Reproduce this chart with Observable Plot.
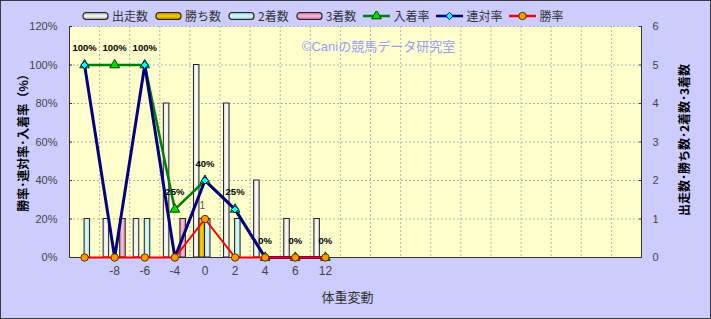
<!DOCTYPE html>
<html><head><meta charset="utf-8">
<script src="https://cdn.jsdelivr.net/npm/d3@7"></script>
<script src="https://cdn.jsdelivr.net/npm/@observablehq/plot@0.6"></script>
<style>
body{margin:0;}
#wrap{position:relative;width:711px;height:319px;background:#ccccff;overflow:hidden;font-family:"Noto Sans CJK JP",sans-serif;}
#border{position:absolute;left:0;top:0;width:711px;height:319px;box-sizing:border-box;border:1px solid #3a3a3a;pointer-events:none;}
#legend{position:absolute;top:8px;left:82px;display:flex;align-items:center;gap:7px;font-size:12px;line-height:16px;color:#333;white-space:nowrap;}
.item{display:flex;align-items:center;}
.item svg{margin-right:3px;display:block;}
#chart{position:absolute;left:0;top:0;}
</style></head>
<body>
<svg width="0" height="0" style="position:absolute">
  <defs>
    <linearGradient id="g0" x1="0" x2="1" y1="0" y2="0"><stop offset="0" stop-color="#d8d8d8"/><stop offset="0.5" stop-color="#ffffff"/><stop offset="1" stop-color="#d8d8d8"/></linearGradient>
    <linearGradient id="g1" x1="0" x2="1" y1="0" y2="0"><stop offset="0" stop-color="#d9a400"/><stop offset="0.5" stop-color="#ffd000"/><stop offset="1" stop-color="#d9a400"/></linearGradient>
    <linearGradient id="g2" x1="0" x2="1" y1="0" y2="0"><stop offset="0" stop-color="#a8e0e4"/><stop offset="0.5" stop-color="#e0fafa"/><stop offset="1" stop-color="#a8e0e4"/></linearGradient>
    <linearGradient id="g3" x1="0" x2="1" y1="0" y2="0"><stop offset="0" stop-color="#e48ab4"/><stop offset="0.5" stop-color="#f8c0da"/><stop offset="1" stop-color="#e48ab4"/></linearGradient>
    <linearGradient id="v0" x1="0" x2="0" y1="0" y2="1"><stop offset="0" stop-color="#999"/><stop offset="0.5" stop-color="#ffffff"/><stop offset="1" stop-color="#999"/></linearGradient>
    <linearGradient id="v1" x1="0" x2="0" y1="0" y2="1"><stop offset="0" stop-color="#b08000"/><stop offset="0.5" stop-color="#ffd000"/><stop offset="1" stop-color="#b08000"/></linearGradient>
    <linearGradient id="v2" x1="0" x2="0" y1="0" y2="1"><stop offset="0" stop-color="#80c0c4"/><stop offset="0.5" stop-color="#e0fafa"/><stop offset="1" stop-color="#80c0c4"/></linearGradient>
    <linearGradient id="v3" x1="0" x2="0" y1="0" y2="1"><stop offset="0" stop-color="#c06090"/><stop offset="0.5" stop-color="#f8c0da"/><stop offset="1" stop-color="#c06090"/></linearGradient>
  </defs>
</svg>
<div id="wrap"><div id="chart"></div><div id="legend"></div><div id="border"></div></div>
<script>
// ---- data ----
const categories = ["", "-8", "-6", "-4", "0", "2", "4", "6", "12"];
const slotCount = 19;
const starts  = [0, 1, 1, 4, 5, 4, 2, 1, 1];   // 出走数
const wins    = [0, 0, 0, 0, 1, 0, 0, 0, 0];   // 勝ち数
const seconds = [1, 0, 1, 0, 1, 1, 0, 0, 0];   // 2着数
const thirds  = [0, 1, 0, 1, 0, 0, 0, 0, 0];   // 3着数
const placeRate  = [100, 100, 100, 25, 40, 25, 0, 0, 0]; // 入着率
const rentaiRate = [100, 0, 100, 0, 40, 25, 0, 0, 0];    // 連対率
const winRate    = [0, 0, 0, 0, 20, 0, 0, 0, 0];         // 勝率
const leftTicks  = [0, 20, 40, 60, 80, 100, 120];
const rightTicks = [0, 1, 2, 3, 4, 5, 6];
const leftTitle  = "勝率･連対率･入着率（%）";
const rightTitle = "出走数･勝ち数･2着数･3着数";
const xTitle = "体重変動";
const watermark = "©Caniの競馬データ研究室";

const countScale = 120 / 6; // right axis 0..6 maps onto left 0..120%

const barSeries = [
  {name: "出走数", values: starts,  fill: "url(#g0)", swatch: "url(#v0)"},
  {name: "勝ち数", values: wins,    fill: "url(#g1)", swatch: "url(#v1)"},
  {name: "2着数",  values: seconds, fill: "url(#g2)", swatch: "url(#v2)"},
  {name: "3着数",  values: thirds,  fill: "url(#g3)", swatch: "url(#v3)"}
];
const lineSeries = [
  {name: "入着率", values: placeRate,  stroke: "#008000", width: 2.5, symbol: "triangle", fill: "#00e000", edge: "#004000", r: 3.6},
  {name: "連対率", values: rentaiRate, stroke: "#000080", width: 3,   symbol: "diamond2", fill: "#00ffff", edge: "#000080", r: 3.3},
  {name: "勝率",   values: winRate,    stroke: "#ff0000", width: 2,   symbol: "circle",   fill: "#ff9900", edge: "#5a3000", r: 3.7}
];

const bw = 5.5 / 30; // bar width as a fraction of a category slot
const bars = [];
barSeries.forEach((s, k) => s.values.forEach((v, i) => {
  if (v > 0) bars.push({i, k, v, x1: i + (k - 2) * bw, x2: i + (k - 1) * bw, fill: s.fill});
}));
const winLabels = [];
wins.forEach((v, i) => { if (v > 0) winLabels.push({x: i - 0.5 * bw, v}); });

const marks = [
  Plot.frame({fill: "#ffffcc", stroke: "none"}),
  Plot.gridY(leftTicks.slice(1), {stroke: "#b4b4b4", strokeOpacity: 1, strokeDasharray: "2,2"}),
  Plot.gridX(d3.range(slotCount + 1).map(i => i - 0.5), {stroke: "#b4b4b4", strokeOpacity: 1, strokeDasharray: "2,2"}),
  Plot.rectY(bars, {x1: "x1", x2: "x2", y1: 0, y2: d => d.v * countScale, fill: d => d.fill, stroke: "#222", strokeWidth: 1}),
  Plot.text(winLabels, {x: "x", y: d => d.v * countScale, text: d => String(d.v), dy: -13, fill: "#555", fontSize: 10}),
  Plot.ruleX([-0.5, slotCount - 0.5], {stroke: "#333"}),
  Plot.ruleY([0], {stroke: "#333"}),
  Plot.text([watermark], {frameAnchor: "top", dx: 23, dy: 20, lineAnchor: "middle", fill: "#9a9aff", fontSize: 13, fontFamily: '"Liberation Sans","Noto Sans CJK JP",sans-serif'})
];
lineSeries.forEach(s => {
  const pts = s.values.map((v, i) => ({i, v}));
  marks.push(Plot.line(pts, {x: "i", y: "v", stroke: s.stroke, strokeWidth: s.width}));
});
lineSeries.forEach(s => {
  const pts = s.values.map((v, i) => ({i, v}));
  marks.push(Plot.dot(pts, {x: "i", y: "v", symbol: () => s.symbol, r: s.r, fill: s.fill, stroke: s.edge, strokeWidth: 1}));
});
marks.push(
  Plot.text(placeRate.map((v, i) => ({i, v})), {x: "i", y: "v", text: d => d.v + "%", dy: -17, fontSize: 9.5, fontWeight: "bold", fill: "#000"}),
  Plot.axisY(leftTicks, {anchor: "left", tickSize: -3, tickPadding: 15, tickFormat: d => d + "%", label: null, fontSize: 11, fill: "#444", stroke: "#333"}),
  Plot.axisY(rightTicks.map(d => d * countScale), {anchor: "right", tickSize: -3, tickPadding: 14, tickFormat: d => String(d / countScale), label: null, fontSize: 11, fill: "#444", stroke: "#333"}),
  Plot.axisX(d3.range(categories.length), {tickSize: 0, tickPadding: 9, tickFormat: i => categories[i], label: null, fontSize: 12, fill: "#444"}),
  Plot.text([leftTitle], {frameAnchor: "left", textAnchor: "middle", dx: -45, dy: -2, rotate: -90, fontSize: 12, fontWeight: "bold", fill: "#000", fontFamily: '"Noto Sans CJK JP",sans-serif'}),
  Plot.text([rightTitle], {frameAnchor: "right", textAnchor: "middle", dx: 44, dy: -2, rotate: -90, fontSize: 12, fontWeight: "bold", fill: "#000", fontFamily: '"Noto Sans CJK JP",sans-serif'}),
  Plot.text([xTitle], {frameAnchor: "bottom", dx: -8, dy: 40, lineAnchor: "middle", fontSize: 13, fill: "#333", fontFamily: '"Noto Sans CJK JP",sans-serif'})
);

const chart = Plot.plot({
  width: 711, height: 319,
  marginLeft: 69, marginRight: 70, marginTop: 26, marginBottom: 62,
  style: {background: "transparent", fontFamily: '"Liberation Sans","Noto Sans CJK JP",sans-serif', overflow: "visible"},
  x: {type: "linear", domain: [-0.5, slotCount - 0.5], label: null},
  y: {domain: [0, 120], label: null},
  marks
});
document.getElementById("chart").appendChild(chart);

// ---- legend ----
const legend = document.getElementById("legend");
const ns = "http://www.w3.org/2000/svg";
function mkItem(name, drawFn) {
  const item = document.createElement("div");
  item.className = "item";
  const svg = document.createElementNS(ns, "svg");
  svg.setAttribute("width", 27); svg.setAttribute("height", 10);
  drawFn(d3.select(svg));
  item.appendChild(svg);
  const span = document.createElement("span");
  span.textContent = name;
  item.appendChild(span);
  legend.appendChild(item);
}
barSeries.forEach(s => mkItem(s.name, g => {
  g.append("rect").attr("x", 1).attr("y", 1.5).attr("width", 25).attr("height", 7).attr("rx", 3)
    .attr("fill", s.swatch).attr("stroke", "#222").attr("stroke-width", 1.2);
}));
lineSeries.forEach(s => mkItem(s.name, g => {
  g.append("line").attr("x1", 0).attr("x2", 27).attr("y1", 5).attr("y2", 5).attr("stroke", s.stroke).attr("stroke-width", 2.5);
  const sym = {triangle: d3.symbolTriangle, diamond2: d3.symbolDiamond2, circle: d3.symbolCircle}[s.symbol];
  g.append("path").attr("d", d3.symbol(sym, Math.PI * s.r * s.r)()).attr("transform", "translate(13.5,5)")
    .attr("fill", s.fill).attr("stroke", s.edge).attr("stroke-width", 1);
}));
</script>
</body></html>
